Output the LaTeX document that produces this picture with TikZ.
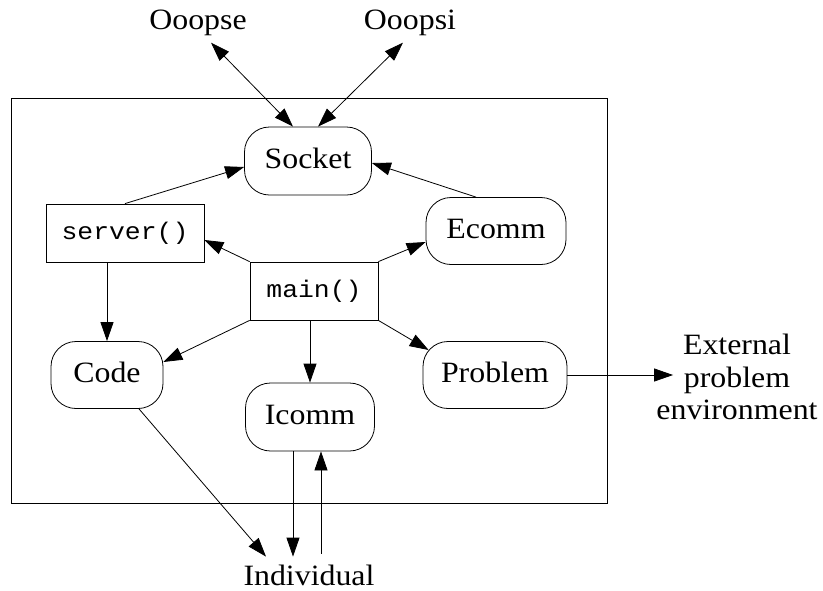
\documentclass[tikz,border=0pt]{standalone}
\usepackage{fontspec}
\setmainfont{Liberation Serif}[FakeStretch=1.08]
\setmonofont{Liberation Mono}[FakeStretch=1.1]
\usetikzlibrary{arrows.meta}

\tikzset{
  every picture/.style={line width=0.8pt},
  tip/.tip={Triangle[length=19pt,width=13pt]},
  arr/.style={-tip},
  darr/.style={tip-tip},
  base/.style={draw, inner sep=0pt, text height=20.5pt, text depth=6pt,
    font=\fontsize{29.5}{32.5}\selectfont},
  rbox/.style={base, rounded corners=25pt},
  pbox/.style={base, text height=17pt, text depth=4.5pt,
    font=\ttfamily\fontsize{24}{28}\selectfont},
  lbl/.style={inner sep=0pt, text height=20.5pt, text depth=6pt,
    font=\fontsize{29.5}{32.5}\selectfont},
}

\begin{document}
\begin{tikzpicture}[x=1pt, y=-1pt]
  \useasboundingbox (0,0) rectangle (823,590);

  % enclosing frame
  \draw (11,98) rectangle (607,503);

  % components
  \node[rbox, minimum width=127pt, minimum height=68pt] (socket)  at (308,161) {Socket};
  \node[pbox, minimum width=158pt, minimum height=58pt] (server)  at (125,233) {server()};
  \node[rbox, minimum width=140pt, minimum height=67pt] (ecomm)   at (496,231) {Ecomm};
  \node[pbox, minimum width=128pt, minimum height=58pt] (main)    at (314,291) {main()};
  \node[rbox, minimum width=112pt, minimum height=67pt] (code)    at (107,375) {Code};
  \node[rbox, minimum width=129pt, minimum height=68pt] (icomm)   at (310,417) {Icomm};
  \node[rbox, minimum width=144pt, minimum height=67pt] (problem) at (495,375) {Problem};

  % outside parties
  \node[lbl] (ooopse) at (198,22) {Ooopse};
  \node[lbl] (ooopsi) at (410,22) {Ooopsi};
  \node[lbl] (indiv)  at (309,577.75) {Individual};
  \node[inner sep=0pt, align=center, font=\fontsize{29.5}{32.5}\selectfont] (ext) at (737,377) {External\\problem\\environment};

  % helper points
  \coordinate (extin) at ([xshift=17pt]ext.west);
  \coordinate (indtop) at ([yshift=7.5pt]indiv.north);
  \coordinate (indtopb) at ([yshift=10.5pt]indiv.north);
  \coordinate (icdn) at ([xshift=-17pt]icomm.south);
  \coordinate (icup) at ([xshift=11pt]icomm.south);

  % socket links
  \draw[darr] ([xshift=13pt,yshift=-7pt]ooopse.south) -- ([xshift=-15pt]socket.north);
  \draw[darr] ([xshift=-7pt,yshift=-7pt]ooopsi.south) -- ([xshift=10pt]socket.north);
  \draw[arr] (server.north) -- ([yshift=-6pt]socket.west);
  \draw[arr] ([xshift=-20pt]ecomm.north) -- ([yshift=-2pt]socket.east);

  % main() fans out
  \draw[arr] (main.north west) -- ([yshift=-7pt]server.east);
  \draw[arr] (main.north east) -- ([yshift=-11pt]ecomm.west);
  \draw[arr] (main.south west) -- ([yshift=13pt]code.east);
  \draw[arr] (main.south -| icomm.north) -- (icomm.north);
  \draw[arr] (main.south east) -- ([xshift=6pt,yshift=25pt]problem.west);

  % remaining links
  \draw[arr] (server.south -| code.north) -- (code.north);
  \draw[arr] (problem.east) -- (problem.east -| extin);
  \draw[arr] ([xshift=32pt]code.south) -- ([xshift=-43pt]indtop);
  \draw[arr] (icdn) -- (icdn |- indtop);
  \draw[arr] (icup |- indtopb) -- (icup);
\end{tikzpicture}
\end{document}
